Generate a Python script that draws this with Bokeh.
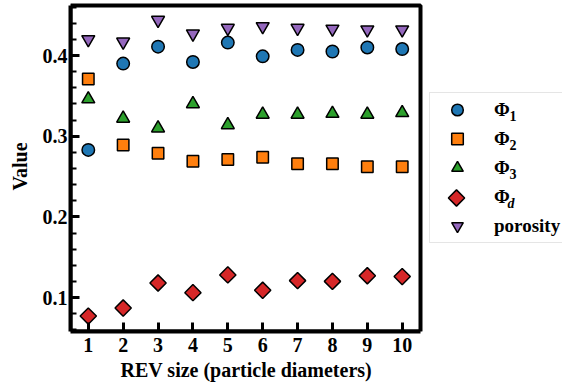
import numpy as np
from bokeh.plotting import figure
from bokeh.models import (Range1d, FixedTicker, SingleIntervalTicker, Legend,
                          LegendItem, Label, BoxAnnotation, Title)
from bokeh.embed import file_html
from bokeh.resources import INLINE

# ---- data ----
rev_size = [1, 2, 3, 4, 5, 6, 7, 8, 9, 10]
phi1 = [0.283, 0.390, 0.411, 0.392, 0.416, 0.399, 0.407, 0.405, 0.410, 0.408]
phi2 = [0.371, 0.289, 0.279, 0.269, 0.271, 0.274, 0.266, 0.266, 0.262, 0.262]
phi3 = [0.346, 0.322, 0.310, 0.340, 0.314, 0.327, 0.327, 0.328, 0.327, 0.329]
phi_d = [0.077, 0.087, 0.118, 0.106, 0.128, 0.109, 0.121, 0.120, 0.127, 0.126]
porosity = [0.420, 0.417, 0.444, 0.427, 0.434, 0.436, 0.434, 0.433, 0.432, 0.432]

x_ticks = rev_size
legend_main = ["\u03a6", "\u03a6", "\u03a6", "\u03a6", "porosity"]
legend_subs = ["1", "2", "3", "d", ""]
x_label = "REV size (particle diameters)"
y_label = "Value"

# ---- geometry (canvas px) ----
W, H = 562, 385
F_LEFT, F_TOP, F_BOTTOM = 70, 1, 331      # drawing frame (extends to right edge)
SPINE_RIGHT, SPINE_TOP = 420, 5           # visible axes box
X0, PPX = 0.49, 34.88                     # x value at F_LEFT, px per unit
Y0, PPY = 0.0579, 806.7                   # y value at F_BOTTOM, px per unit

X1 = X0 + (W - F_LEFT) / PPX
Y1 = Y0 + (F_BOTTOM - F_TOP) / PPY
XS = X0 + (SPINE_RIGHT - F_LEFT) / PPX
YS = Y0 + (F_BOTTOM - SPINE_TOP) / PPY

def cx(px):
    return X0 + (px - F_LEFT) / PPX
def cy(py):
    return Y0 + (F_BOTTOM - py) / PPY

FONT = "Liberation Serif"

p = figure(width=W, height=H, output_backend="svg", toolbar_location=None,
           x_range=Range1d(X0, X1), y_range=Range1d(Y0, Y1),
           min_border_left=F_LEFT, min_border_right=0,
           min_border_top=F_TOP, min_border_bottom=H - F_BOTTOM)
p.xgrid.visible = False
p.ygrid.visible = False
p.outline_line_color = None
p.background_fill_color = "white"
p.border_fill_color = "white"

p.xaxis.ticker = FixedTicker(ticks=x_ticks)
p.yaxis.ticker = SingleIntervalTicker(interval=0.1, num_minor_ticks=5)
p.xaxis.bounds = (X0, XS)
p.yaxis.bounds = (Y0, YS)

for ax in (p.xaxis[0], p.yaxis[0]):
    ax.axis_line_width = 4
    ax.axis_line_color = "black"
    ax.major_tick_in = 9
    ax.major_tick_out = 0
    ax.major_tick_line_width = 3
    ax.major_label_text_font = FONT
    ax.major_label_text_font_style = "bold"
    ax.major_label_text_font_size = "20px"
    ax.major_label_text_color = "black"
    ax.axis_label_text_font = FONT
    ax.axis_label_text_font_style = "bold"
    ax.axis_label_text_font_size = "20px"
    ax.axis_label_text_color = "black"

p.xaxis.minor_tick_line_color = None
p.xaxis.major_label_standoff = 6

p.yaxis.minor_tick_in = 6
p.yaxis.minor_tick_out = 0
p.yaxis.minor_tick_line_width = 2
p.yaxis.minor_tick_line_color = "black"
p.yaxis.major_label_standoff = 3
p.yaxis.axis_label_standoff = 9
p.yaxis.axis_label = y_label

# x label centred under the visible axes box
p.add_layout(Title(text=x_label, align="left", offset=50,
                   standoff=4, text_font=FONT, text_font_style="bold",
                   text_font_size="20px", text_color="black"), "below")

# top and right spines
p.add_layout(BoxAnnotation(left=X0, right=XS, bottom=Y0, top=YS,
                           fill_alpha=0, line_color="black", line_alpha=1.0,
                           line_width=4))

LW = 1.5
r1 = p.scatter(rev_size, phi1, marker="circle", size=12.5, fill_color="#1f77b4",
               line_color="black", line_width=LW)
r2 = p.scatter(rev_size, phi2, marker="square", size=11.5, fill_color="#ff7f0e",
               line_color="black", line_width=LW)
r3 = p.scatter(rev_size, phi3, marker="triangle", size=13, fill_color="#2ca02c",
               line_color="black", line_width=LW)
r4 = p.scatter(rev_size, phi_d, marker="square", size=11.5, angle=np.pi / 4,
               fill_color="#d62728", line_color="black", line_width=LW)
r5 = p.scatter(rev_size, porosity, marker="inverted_triangle", size=13,
               fill_color="#9467bd", line_color="black", line_width=LW)
# the legend cannot rotate a square: its key is drawn separately below
r4_key = p.scatter([], [], marker="square", fill_alpha=0, line_alpha=0)

renderers = [r1, r2, r3, r4_key, r5]
items = [LegendItem(label=lab, renderers=[r]) for lab, r in zip(legend_main, renderers)]

# legend geometry (canvas px)
LG_LEFT, LG_BOTTOM = 429, 243
PAD, GH, SP, GW, STD = 2, 29, 0, 50, 12
n = len(items)
lg_top = LG_BOTTOM - (2 * PAD + n * GH + (n - 1) * SP)
row_c = [lg_top + PAD + GH / 2 + i * (GH + SP) for i in range(n)]

# rotated-square key for Phi_d
p.scatter([cx(LG_LEFT + PAD + GW / 2)], [cy(row_c[3])], marker="square", size=11.5,
          angle=np.pi / 4, fill_color="#d62728", line_color="black", line_width=LW,
          level="overlay")

# subscripts for legend labels
for i, s in enumerate(legend_subs):
    if not s:
        continue
    italic = s.isalpha()
    lab = Label(x=cx(509 if not italic else 507), y=cy(row_c[i] + 5),
                text=s, text_font=FONT,
                text_font_style="bold italic" if italic else "bold",
                text_font_size="14px", text_color="black",
                text_align="left", text_baseline="alphabetic")
    p.add_layout(lab)

legend = Legend(items=items,
                location=(LG_LEFT - F_LEFT, F_BOTTOM - LG_BOTTOM),
                padding=PAD, spacing=SP, margin=0,
                glyph_width=GW, glyph_height=GH, label_height=GH, label_standoff=STD,
                label_text_font=FONT, label_text_font_style="bold",
                label_text_font_size="19px", label_text_color="black",
                border_line_color="#cccccc", border_line_width=1,
                background_fill_color=None)
p.add_layout(legend, "center")

open("out.html", "w").write(file_html(p, INLINE))
